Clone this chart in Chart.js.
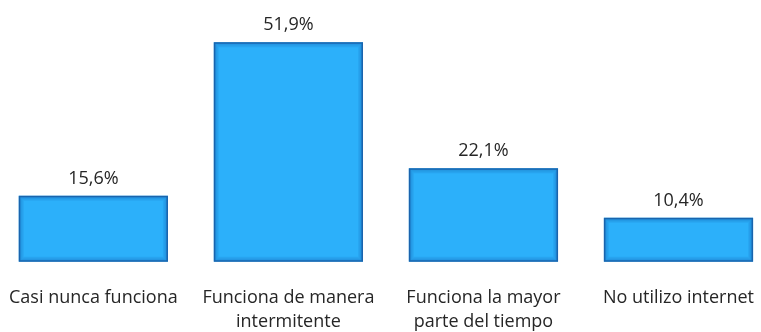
<!DOCTYPE html>
<html lang="es">
<head>
<meta charset="utf-8">
<script src="https://cdn.jsdelivr.net/npm/chart.js@4"></script>
<style>
    html, body { margin: 0; padding: 0; background: #fff; overflow: hidden; }
    body { width: 761px; height: 332px; position: relative; }
    .chart-wrap { position: absolute; left: -7px; top: 0; width: 783px; height: 350px; }
</style>
</head>
<body>
<div class="chart-wrap"><canvas id="estadoChart"></canvas></div>
<script>
// categorías y porcentajes
const categorias = [
    "Casi nunca funciona",
    ["Funciona de manera", "intermitente"],
    ["Funciona la mayor", "parte del tiempo"],
    "No utilizo internet"
];
const porcentajes = [15.6, 51.9, 22.1, 10.4];

const fuente = "'Open Sans', 'Noto Sans', sans-serif";

// etiqueta de valor encima de cada barra
const etiquetasValor = {
    id: 'etiquetasValor',
    afterDatasetsDraw(chart) {
        const ctx = chart.ctx;
        const meta = chart.getDatasetMeta(0);
        ctx.save();
        meta.data.forEach((bar, i) => {
            // sombreado interior de la barra
            const { x, y, base, width } = bar.getProps(['x', 'y', 'base', 'width'], true);
            const l = x - width / 2, t = y, h = base - y;
            for (let k = 0; k < 4; k++) {
                ctx.strokeStyle = `rgba(20, 90, 170, ${0.35 - k * 0.08})`;
                ctx.lineWidth = 1;
                ctx.strokeRect(l + 1.5 + k, t + 1.5 + k, width - 3 - 2 * k, h - 3 - 2 * k);
            }
            ctx.strokeStyle = '#1a64ad';
            ctx.lineWidth = 1.5;
            ctx.strokeRect(l + 0.75, t + 0.75, width - 1.5, h - 1.5);

            ctx.fillStyle = '#262626';
            ctx.font = `18px ${fuente}`;
            ctx.textAlign = 'center';
            ctx.textBaseline = 'alphabetic';
            ctx.fillText(porcentajes[i].toFixed(1).replace('.', ',') + '%', x, y - 12);
        });
        ctx.restore();
    }
};

new Chart(document.getElementById('estadoChart'), {
    type: 'bar',
    data: {
        labels: categorias,
        datasets: [{
            data: porcentajes,
            backgroundColor: '#2cb0fa',
            borderWidth: 0,
            barPercentage: 0.765,
            categoryPercentage: 1
        }]
    },
    options: {
        responsive: true,
        maintainAspectRatio: false,
        animation: false,
        layout: { padding: { top: 8, bottom: 0, left: 0, right: 0 } },
        scales: {
            x: {
                grid: { display: false },
                border: { display: false },
                ticks: {
                    color: '#262626',
                    padding: 16,
                    maxRotation: 0,
                    autoSkip: false,
                    font: { size: 18, family: fuente, lineHeight: 1.34 }
                }
            },
            y: {
                display: false,
                min: 0,
                max: 60
            }
        },
        plugins: {
            legend: { display: false },
            tooltip: { enabled: false }
        }
    },
    plugins: [etiquetasValor]
});
</script>
</body>
</html>
